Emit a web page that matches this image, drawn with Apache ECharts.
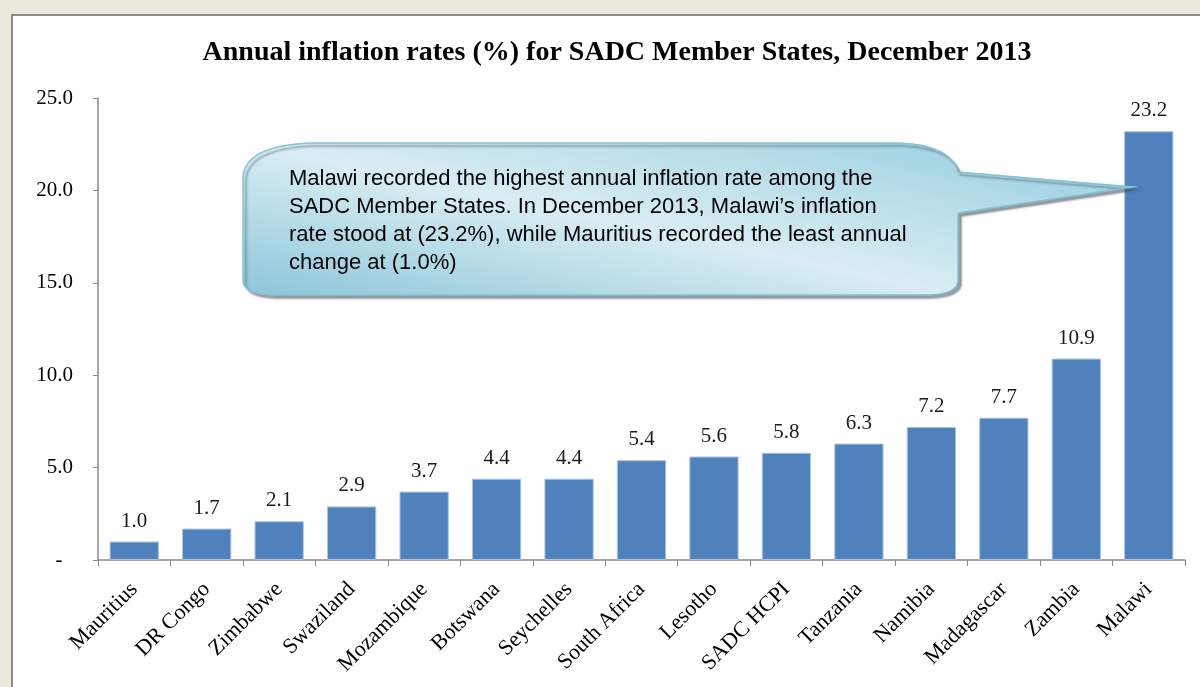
<!DOCTYPE html>
<html>
<head>
<meta charset="utf-8">
<script src="https://cdn.jsdelivr.net/npm/echarts@6/dist/echarts.min.js"></script>
<style>
  html, body { margin: 0; padding: 0; background: #ece9df; overflow: hidden; }
  #panel { position: absolute; left: 11px; top: 14px; width: 1300px; height: 800px; background: #fff; border: 2px solid #8c8c8c; }
  #chart { position: absolute; left: 0; top: 0; width: 1200px; height: 687px; }
</style>
</head>
<body>
<div id="panel"></div>
<div id="chart"></div>
<script>
// data
const countries = ['Mauritius', 'DR Congo', 'Zimbabwe', 'Swaziland', 'Mozambique', 'Botswana', 'Seychelles',
  'South Africa', 'Lesotho', 'SADC HCPI', 'Tanzania', 'Namibia', 'Madagascar', 'Zambia', 'Malawi'];
const inflation = [1.0, 1.7, 2.1, 2.9, 3.7, 4.4, 4.4, 5.4, 5.6, 5.8, 6.3, 7.2, 7.7, 10.9, 23.2];
const titleText = 'Annual inflation rates (%) for SADC Member States, December 2013';
const noteLines = [
  'Malawi recorded the highest annual inflation rate among the',
  'SADC Member States. In December 2013, Malawi\u2019s inflation',
  'rate stood at (23.2%), while Mauritius recorded the least annual',
  'change at (1.0%)'
];

// callout bubble shape (pointer goes to the Malawi bar)
const bubblePath = 'M243 178 Q244 146 310 143 L900 143 Q950 145 958 172 L1133 187 L958 213 ' +
  'L958 282 Q956 294 928 295 L272 295 Q245 294 243 282 Z';
echarts.graphic.registerShape('bubble', echarts.graphic.extendPath(bubblePath, {}));

let chart = echarts.init(document.getElementById('chart'));

let option = {
  animation: false,
  backgroundColor: 'transparent',
  title: {
    text: titleText,
    left: 612,
    textAlign: 'center',
    top: 34,
    textStyle: { fontFamily: 'Liberation Serif', fontWeight: 'bold', fontSize: 28, color: '#000' }
  },
  grid: { left: 98, right: 15, top: 98, bottom: 127 },
  xAxis: {
    type: 'category',
    data: countries,
    axisLine: { lineStyle: { color: '#8a8a8a', width: 1.5 } },
    axisTick: { show: true, length: 6, lineStyle: { color: '#8a8a8a' } },
    axisLabel: { rotate: 45, margin: 26, fontFamily: 'Liberation Serif', fontSize: 22, color: '#000', interval: 0 }
  },
  yAxis: {
    type: 'value',
    min: 0,
    max: 25,
    interval: 5,
    splitLine: { show: false },
    axisLine: { show: true, lineStyle: { color: '#8a8a8a', width: 1.5 } },
    axisTick: { show: true, length: 5, lineStyle: { color: '#8a8a8a' } },
    axisLabel: {
      margin: 25,
      fontFamily: 'Liberation Serif',
      fontSize: 21,
      color: '#000',
      formatter: v => v === 0 ? '-\u2002' : v.toFixed(1)
    }
  },
  series: [{
    type: 'bar',
    data: inflation,
    barWidth: '68%',
    itemStyle: { color: '#4f81bd', borderColor: '#a9c4e4', borderWidth: 1 },
    label: {
      show: true,
      position: 'top',
      distance: 10,
      fontFamily: 'Liberation Serif',
      fontSize: 21,
      color: '#1a1a1a',
      formatter: p => p.value.toFixed(1)
    }
  }],
  graphic: [
    {
      type: 'bubble',
      z: 100,
      style: {
        // light band along the top-left to bottom-right diagonal
        fill: new echarts.graphic.LinearGradient(631, 73, 569, 365, [
          { offset: 0, color: '#9fd2e1' },
          { offset: 0.5, color: '#d9edf3' },
          { offset: 1, color: '#8cc6d8' }
        ], true),
        stroke: '#82c4d6',
        lineWidth: 1.5,
        shadowColor: 'rgba(70,80,90,0.55)',
        shadowOffsetX: 3,
        shadowOffsetY: 3,
        shadowBlur: 2
      }
    },
    {
      type: 'text',
      left: 289,
      top: 165,
      z: 101,
      style: {
        text: noteLines.join('\n'),
        fontFamily: 'Liberation Sans',
        fontSize: 22,
        lineHeight: 28,
        fill: '#000'
      }
    }
  ]
};

chart.setOption(option);
</script>
</body>
</html>
